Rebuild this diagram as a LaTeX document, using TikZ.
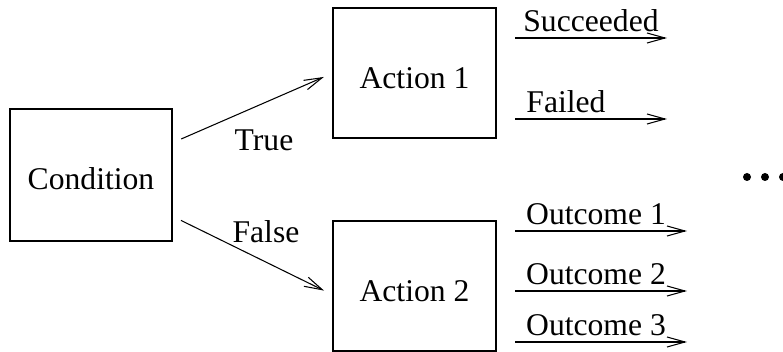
\documentclass[tikz,border=0pt]{standalone}
\usepackage{fontspec}
\setmainfont{Liberation Serif}
\usetikzlibrary{arrows.meta}
\tikzset{
    box/.style={draw, line width=0.6pt, inner sep=0, outer sep=0, minimum width=3.26cm, minimum height=2.6cm, text height=0.64cm, text depth=0},
    arr/.style={line width=0.6pt, -{Straight Barb[length=0.36cm, width=0.2cm]}},
    lbl/.style={font=\fontsize{18}{21}\selectfont},
    dot/.style={fill, circle, minimum size=0.16cm, inner sep=0, outer sep=0}
}
\begin{document}
\begin{tikzpicture}[lbl]
    \useasboundingbox (0,0) rectangle (15.66,7.04);
    \node[box, minimum width=3.24cm, minimum height=2.64cm, text height=0.6cm] (cond) at (1.82,3.54) {Condition\hspace{0.2cm}};
    \node[box] (act1) at (8.29,5.58) {Action 1};
    \node[box] (act2) at (8.29,1.32) {Action 2};
    \draw[arr, shorten <=0.2cm, shorten >=0.2cm] ([yshift=0.64cm]cond.east) -- (act1.west);
    \draw[arr, shorten <=0.2cm, shorten >=0.2cm] ([yshift=-0.82cm]cond.east) -- ([yshift=-0.18cm]act2.west);
    \node (true) at (5.28,4.24) {True};
    \node (false) at (5.32,2.41) {False};
    \coordinate (succ) at (13.34,6.28);
    \coordinate (fail) at (13.34,4.66);
    \coordinate (out1) at (13.74,2.42);
    \coordinate (out2) at (13.74,1.22);
    \coordinate (out3) at (13.74,0.20);
    \draw[arr] ([xshift=0.38cm]act1.east |- succ) -- node[above] {Succeeded} (succ);
    \draw[arr] ([xshift=0.38cm]act1.east |- fail) -- node[above, xshift=-0.5cm] {Failed} (fail);
    \draw[arr] ([xshift=0.38cm]act2.east |- out1) -- node[above, xshift=-0.1cm] {Outcome 1} (out1);
    \draw[arr] ([xshift=0.38cm]act2.east |- out2) -- node[above, xshift=-0.1cm] {Outcome 2} (out2);
    \draw[arr] ([xshift=0.38cm]act2.east |- out3) -- node[above, xshift=-0.1cm] {Outcome 3} (out3);
    \node[dot] (dot1) at (14.94,3.50) {};
    \node[dot] (dot2) at (15.30,3.50) {};
    \node[dot] (dot3) at (15.66,3.50) {};
\end{tikzpicture}
\end{document}
